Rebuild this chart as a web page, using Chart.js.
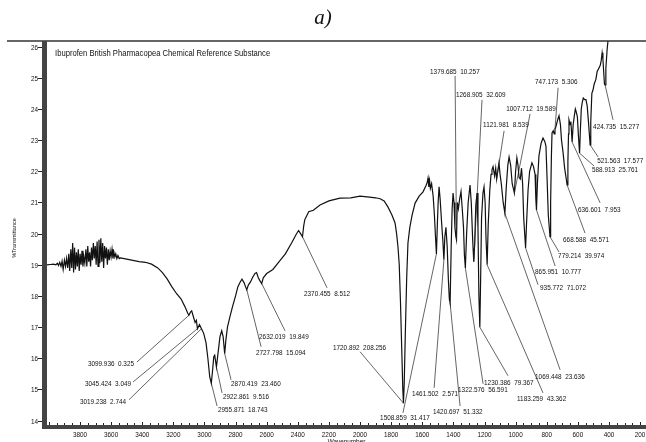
<!DOCTYPE html>
<html>
<head>
<meta charset="utf-8">
<script src="https://cdn.jsdelivr.net/npm/chart.js@4"></script>
<style>
  html, body { margin: 0; padding: 0; background: #fff; }
  #wrap { width: 646px; height: 442px; position: relative; }
</style>
</head>
<body>
<div id="wrap"><canvas id="espectro"></canvas></div>
<script>
'use strict'

// espectro IR: [numero de onda, %T]
const espectro = [
  [4012,19.0],[3990,19.01],[3970,19.02],[3955,19.0],[3945,19.05],[3938,18.98],[3930,19.08],[3922,18.95],
  [3915,19.12],[3908,18.85],[3900,19.15],[3893,18.95],[3886,19.2],[3879,18.9],[3872,19.35],[3866,18.8],
  [3859,19.5],[3853,18.9],[3847,19.7],[3841,18.75],[3835,19.55],[3829,18.85],[3823,19.4],[3817,18.95],
  [3811,19.5],[3805,18.8],[3799,19.35],[3793,19.0],[3787,19.45],[3781,18.95],[3775,19.25],[3769,19.05],
  [3762,19.5],[3756,18.95],[3750,19.6],[3744,19.1],[3738,19.4],[3732,18.95],[3726,19.55],[3720,19.15],
  [3714,19.7],[3708,19.2],[3702,19.6],[3696,19.0],[3690,19.75],[3684,18.95],[3678,19.8],[3672,19.05],
  [3666,19.85],[3660,19.1],[3654,19.7],[3648,18.9],[3642,19.6],[3636,19.2],[3630,19.55],[3624,19.0],
  [3618,19.5],[3612,19.15],[3606,19.45],[3600,19.25],[3594,19.5],[3588,19.2],[3582,19.4],[3576,19.25],
  [3570,19.35],[3563,19.2],[3556,19.3],[3548,19.2],[3540,19.22],[3500,19.18],[3460,19.14],[3420,19.1],
  [3380,19.08],[3340,19.02],[3300,18.9],[3270,18.75],[3240,18.55],[3210,18.3],[3180,18.08],[3150,17.9],
  [3125,17.65],[3108,17.45],[3100,17.38],[3090,17.48],[3082,17.52],[3072,17.35],[3060,17.15],[3052,17.22],
  [3045,16.95],[3032,17.08],[3019,16.95],[3005,16.8],[2990,16.5],[2978,16.0],[2966,15.4],[2956,15.2],
  [2948,15.6],[2940,16.05],[2934,16.1],[2923,15.72],[2912,16.2],[2900,16.7],[2889,16.88],[2880,16.7],
  [2870,16.15],[2862,16.6],[2852,17.0],[2838,17.3],[2820,17.65],[2800,18.0],[2785,18.3],[2770,18.45],
  [2759,18.54],[2745,18.42],[2736,18.3],[2728,18.2],[2718,18.35],[2704,18.45],[2690,18.6],[2675,18.72],
  [2665,18.75],[2655,18.6],[2645,18.5],[2632,18.4],[2622,18.58],[2600,18.72],[2560,18.85],[2520,19.1],
  [2480,19.35],[2440,19.7],[2410,19.98],[2395,20.1],[2382,20.0],[2370,19.9],[2362,20.25],[2355,20.45],
  [2345,20.55],[2330,20.7],[2300,20.75],[2257,20.92],[2200,21.05],[2129,21.14],[2060,21.15],[2000,21.2],
  [1940,21.17],[1900,21.15],[1871,21.12],[1845,21.05],[1820,20.85],[1795,20.6],[1775,20.34],[1765,20.0],
  [1756,19.57],[1748,19.0],[1740,17.8],[1732,16.3],[1725,15.0],[1721,14.56],[1716,15.2],[1708,17.0],
  [1700,18.6],[1692,19.7],[1680,20.2],[1665,20.6],[1646,20.98],[1620,21.2],[1595,21.34],[1585,21.45],
  [1575,21.55],[1568,21.65],[1563,21.78],[1558,21.5],[1553,21.7],[1548,21.45],[1540,21.6],[1530,21.2],
  [1522,20.6],[1515,19.9],[1509,19.35],[1503,20.3],[1498,21.0],[1492,21.5],[1485,21.1],[1475,20.3],
  [1468,19.8],[1461,19.16],[1455,19.9],[1448,20.2],[1440,19.6],[1432,18.5],[1426,17.9],[1421,17.77],
  [1414,19.6],[1408,20.8],[1402,21.3],[1396,21.0],[1390,20.2],[1384,19.9],[1380,19.8],[1375,21.0],
  [1368,20.8],[1360,21.1],[1351,21.35],[1343,20.8],[1335,20.2],[1329,19.3],[1323,18.9],[1315,20.0],
  [1305,21.0],[1293,21.56],[1285,21.0],[1276,19.8],[1269,19.1],[1263,19.7],[1256,20.9],[1248,21.3],
  [1242,20.2],[1236,18.0],[1230,17.0],[1225,18.5],[1219,20.5],[1210,21.3],[1203,21.5],[1196,21.0],
  [1190,19.8],[1183,19.0],[1176,20.3],[1166,21.4],[1158,21.9],[1152,22.05],[1145,22.15],[1135,21.85],
  [1128,22.1],[1122,21.75],[1115,22.0],[1107,22.27],[1100,21.9],[1092,21.6],[1080,21.0],[1069,20.65],
  [1060,21.5],[1050,22.2],[1042,22.46],[1032,22.2],[1022,21.6],[1008,21.3],[1000,22.0],[992,22.43],
  [985,22.2],[978,21.8],[970,21.75],[962,22.1],[955,21.6],[948,20.5],[936,19.54],[930,20.3],
  [920,21.4],[910,22.0],[895,22.27],[885,22.15],[875,21.9],[870,21.1],[866,20.76],[860,21.6],
  [850,22.5],[836,22.9],[824,23.07],[812,22.95],[805,22.8],[798,21.8],[790,20.6],[779,19.9],
  [775,21.0],[770,22.5],[766,23.23],[758,23.3],[752,23.2],[747,23.35],[740,23.45],[730,23.65],
  [721,23.78],[712,23.5],[705,23.0],[695,22.6],[685,22.1],[676,21.8],[669,21.56],[664,22.3],
  [660,23.2],[657,23.65],[650,23.5],[645,23.6],[641,23.3],[637,22.94],[630,23.5],[622,23.8],
  [616,24.0],[610,23.9],[603,23.75],[597,23.2],[589,22.58],[584,23.3],[578,24.0],[572,24.2],
  [565,24.35],[556,24.3],[548,24.3],[540,24.1],[532,23.6],[521,22.85],[517,23.6],[510,24.5],
  [503,24.6],[495,24.8],[484,24.95],[476,25.2],[466,25.3],[456,25.4],[450,25.55],[444,25.8],
  [439,25.6],[434,25.2],[429,24.8],[425,24.77],[420,25.3],[412,25.9],[404,26.3],[395,26.7]
]

// etiquetas de picos: [texto, nº onda pico, %T pico, nº onda texto, %T texto, nº onda guia, %T guia]
const picos = [
  ['3099.936  0.325', 3100, 17.38, 3749, 15.76, 3434, 15.88],
  ['3045.424  3.049', 3045, 16.95, 3768, 15.11, 3459, 15.24],
  ['3019.238  2.744', 3019, 16.95, 3800, 14.54, 3485, 14.67],
  ['2955.871  18.743', 2956, 15.2, 2913, 14.28, 2919, 14.47],
  ['2922.861  9.516', 2923, 15.72, 2881, 14.70, 2887, 14.89],
  ['2870.419  23.460', 2870, 16.15, 2829, 15.11, 2829, 15.31],
  ['2727.798  15.094', 2728, 18.2, 2669, 16.11, 2636, 16.37],
  ['2632.019  19.849', 2632, 18.4, 2649, 16.62, 2482, 16.88],
  ['2370.455  8.512', 2370, 19.9, 2360, 18.00, 2212, 18.26],
  ['1720.892  208.256', 1721, 14.56, 2174, 16.27, 2000, 16.21],
  ['1508.859  31.417', 1509, 19.35, 1871, 14.02, 1724, 14.25],
  ['1461.502  2.571', 1461, 19.16, 1666, 14.79, 1524, 15.05],
  ['1420.697  51.332', 1421, 17.77, 1531, 14.22, 1357, 14.47],
  ['1322.576  56.591', 1323, 18.9, 1370, 14.92, 1209, 15.18],
  ['1230.386  79.367', 1230, 17.0, 1203, 15.15, 1049, 15.44],
  ['1183.259  43.362', 1183, 19.0, 991, 14.63, 824, 14.89],
  ['1069.448  23.636', 1069, 20.65, 875, 15.34, 714, 15.63],
  ['935.772  71.072', 936, 19.54, 843, 18.19, 856, 18.36],
  ['865.951  10.777', 866, 20.76, 875, 18.71, 746, 18.96],
  ['779.214  39.974', 779, 19.9, 727, 19.22, 721, 19.41],
  ['668.588  45.571', 669, 21.56, 695, 19.73, 554, 20.02],
  ['636.601  7.953', 637, 22.94, 599, 20.70, 457, 20.99],
  ['588.913  25.761', 589, 22.58, 509, 21.98, 496, 22.17],
  ['521.563  17.577', 521, 22.85, 476, 22.27, 470, 22.46],
  ['424.735  15.277', 425, 24.77, 502, 23.36, 374, 23.65],
  ['747.173  5.306', 747, 23.35, 875, 24.80, 727, 24.68],
  ['1007.712  19.589', 1008, 21.3, 1061, 23.94, 907, 23.84],
  ['1121.981  8.539', 1122, 21.75, 1209, 23.42, 1074, 23.30],
  ['1268.905  32.609', 1269, 19.1, 1383, 24.39, 1216, 24.29],
  ['1379.685  10.257', 1380, 19.8, 1550, 25.12, 1389, 25.06]
]

const xTicks = [3800,3600,3400,3200,3000,2800,2600,2400,2200,2000,1800,1600,1400,1200,1000,800,600,400,200]
const yTicks = [14,15,16,17,18,19,20,21,22,23,24,25,26]
const titulo = 'Ibuprofen British Pharmacopea Chemical Reference Substance'
const ejeX = 'Wavenumber'
const ejeY = '%Transmittance'
const rotulo = 'a)'

const APLASTE = 0.85   // el texto del original esta algo comprimido en horizontal

function textoAplastado(ctx, txt, px, py, align) {
  ctx.save()
  ctx.translate(px, py)
  ctx.scale(APLASTE, 1)
  ctx.textAlign = align
  ctx.fillText(txt, 0, 0)
  ctx.restore()
}

const decorado = {
  id: 'decorado',
  afterDraw(chart) {
    const ctx = chart.ctx
    const a = chart.chartArea
    const x = chart.scales.x
    const y = chart.scales.y

    ctx.save()
    ctx.fillStyle = '#111'
    ctx.textBaseline = 'alphabetic'

    // rotulo a)
    ctx.font = 'italic 21px "Liberation Serif", "Times New Roman", serif'
    ctx.textAlign = 'center'
    ctx.fillText(rotulo, chart.width / 2, 24)

    // linea superior
    ctx.strokeStyle = '#333'
    ctx.lineWidth = 1.3
    ctx.beginPath()
    ctx.moveTo(7, a.top)
    ctx.lineTo(chart.width, a.top)
    ctx.stroke()

    // lineas guia de los picos
    ctx.strokeStyle = '#222'
    ctx.lineWidth = 0.7
    picos.forEach(p => {
      ctx.beginPath()
      ctx.moveTo(x.getPixelForValue(p[5]), y.getPixelForValue(p[6]))
      ctx.lineTo(x.getPixelForValue(p[1]), y.getPixelForValue(p[2]))
      ctx.stroke()
    })

    // textos de los picos
    ctx.font = '7.5px "Liberation Sans", Arial, sans-serif'
    picos.forEach(p => {
      textoAplastado(ctx, p[0], x.getPixelForValue(p[3]), y.getPixelForValue(p[4]), 'left')
    })

    // titulo dentro del grafico
    ctx.font = '9px "Liberation Sans", Arial, sans-serif'
    textoAplastado(ctx, titulo, a.left + 8, a.top + 15, 'left')

    // barras de los ejes
    ctx.fillStyle = '#444'
    ctx.fillRect(a.left - 5, a.top, 5, a.bottom - a.top + 4)
    ctx.fillRect(a.left - 5, a.bottom, a.right - a.left + 5, 4)

    // marcas eje y
    ctx.strokeStyle = '#222'
    ctx.lineWidth = 1
    ctx.fillStyle = '#111'
    ctx.font = '7.5px "Liberation Sans", Arial, sans-serif'
    yTicks.forEach(v => {
      const py = Math.round(y.getPixelForValue(v)) + 0.5
      ctx.beginPath()
      ctx.moveTo(a.left - 9, py)
      ctx.lineTo(a.left - 5, py)
      ctx.stroke()
      textoAplastado(ctx, String(v), a.left - 9, py + 2.5, 'right')
    })

    // marcas menores eje x cada 50
    for (let v = 4000; v >= 150; v -= 50) {
      const px = Math.round(x.getPixelForValue(v)) + 0.5
      if (px < a.left || px > a.right) continue
      const largo = v % 200 === 0 ? 3 : 2
      ctx.beginPath()
      ctx.moveTo(px, a.bottom - largo)
      ctx.lineTo(px, a.bottom)
      ctx.stroke()
    }
    xTicks.forEach(v => {
      const px = x.getPixelForValue(v)
      textoAplastado(ctx, String(v), px, a.bottom + 12, 'center')
    })

    // titulos de ejes
    ctx.font = '7.5px "Liberation Sans", Arial, sans-serif'
    textoAplastado(ctx, ejeX, (a.left + a.right) / 2, a.bottom + 18.5, 'center')

    ctx.save()
    ctx.translate(16, (a.top + a.bottom) / 2 + 5)
    ctx.rotate(-Math.PI / 2)
    ctx.font = '5.5px "Liberation Sans", Arial, sans-serif'
    ctx.textAlign = 'center'
    ctx.fillText(ejeY, 0, 0)
    ctx.restore()

    ctx.restore()
  }
}

const ctx = document.getElementById('espectro').getContext('2d')
const grafico = new Chart(ctx, {
  type: 'line',
  data: {
    datasets: [{
      label: 'Ibuprofen',
      data: espectro.map(p => ({ x: p[0], y: p[1] })),
      borderColor: '#111',
      borderWidth: 1.2,
      pointRadius: 0,
      tension: 0,
      fill: false
    }]
  },
  options: {
    responsive: true,
    maintainAspectRatio: false,
    animation: false,
    layout: { padding: { left: 47, right: 0, top: 41, bottom: 17 } },
    plugins: { legend: { display: false }, tooltip: { enabled: false } },
    scales: {
      x: { type: 'linear', reverse: true, min: 162, max: 4012, display: false },
      y: { type: 'linear', min: 13.86, max: 26.18, display: false }
    }
  },
  plugins: [decorado]
})
</script>
</body>
</html>
